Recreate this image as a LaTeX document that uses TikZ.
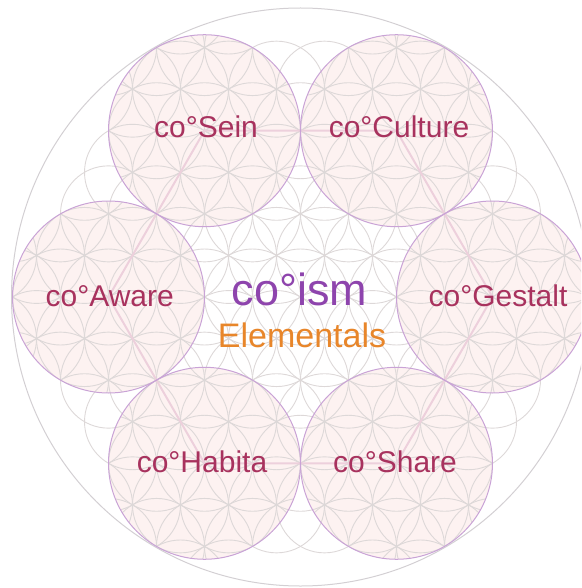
\documentclass[tikz,border=0pt]{standalone}
\usepackage{fontspec}
\setmainfont{Liberation Sans}
\usetikzlibrary{calc}
\definecolor{latgray}{HTML}{DDD8D8}
\definecolor{pinkfill}{HTML}{FDF2F1}
\definecolor{circborder}{HTML}{C9A3D6}
\definecolor{hexpink}{HTML}{EDD0DC}
\definecolor{labelc}{HTML}{A8325E}
\definecolor{ismc}{HTML}{8E44AD}
\definecolor{elemc}{HTML}{E8862A}
\definecolor{outerc}{HTML}{D3CFD3}
\begin{document}
\begin{tikzpicture}[x=1pt,y=-1pt,
  lat/.style={draw=latgray,line width=0.9pt},
  elemfill/.style={fill=pinkfill},
  elemborder/.style={draw=circborder,line width=1pt},
  hexline/.style={draw=hexpink,line width=2pt},
  bigring/.style={draw=outerc,line width=1pt},
  lab/.style={text=labelc,anchor=base,inner sep=0pt,font=\fontsize{30}{36}\selectfont},
  ism/.style={text=ismc,anchor=base,inner sep=0pt,font=\fontsize{45}{54}\selectfont},
  elems/.style={text=elemc,anchor=base,inner sep=0pt,font=\fontsize{34}{40}\selectfont}]
\useasboundingbox (0,0) rectangle (581,588);
\clip (0,0) rectangle (581,588);
\coordinate (o) at (300.5,297);
\coordinate (c1) at (204.5,130.72);
\coordinate (c2) at (396.5,130.72);
\coordinate (c3) at (492.5,297);
\coordinate (c4) at (396.5,463.28);
\coordinate (c5) at (204.5,463.28);
\coordinate (c6) at (108.5,297);
% outer ring
\draw[bigring] (o) circle[radius=289pt];
% global flower lattice
\foreach \i in {-5,...,5}{
  \foreach \j in {-5,...,5}{
    \pgfmathtruncatemacro\nn{\i*\i+\i*\j+\j*\j}
    \ifnum\nn<20
      \draw[lat] ($(o)+({48*\i+24*\j},{41.5692*\j})$) circle[radius=48pt];
    \fi
  }
}
% six element circles with their own clipped flower
\foreach \c in {c1,c2,c3,c4,c5,c6}{
  \fill[elemfill] (\c) circle[radius=96pt];
  \begin{scope}
    \clip (\c) circle[radius=96pt];
    \foreach \i in {-3,...,3}{
      \foreach \j in {-3,...,3}{
        \pgfmathtruncatemacro\nn{\i*\i+\i*\j+\j*\j}
        \ifnum\nn<8
          \draw[lat] ($(\c)+({48*\i+24*\j},{41.5692*\j})$) circle[radius=48pt];
        \fi
      }
    }
  \end{scope}
}
% hexagon linking the centres
\draw[hexline] (c1) -- (c2) -- (c3) -- (c4) -- (c5) -- (c6) -- cycle;
\foreach \c in {c1,c2,c3,c4,c5,c6}{
  \draw[elemborder] (\c) circle[radius=96pt];
}
% labels
\node[lab] (tsein) at (206,137.7) {co°Sein};
\node[lab] (tculture) at (399,137.7) {co°Culture};
\node[lab] (taware) at (109.7,306) {co°Aware};
\node[lab] (tgestalt) at (498,306) {co°Gestalt};
\node[lab] (thabita) at (202,472) {co°Habita};
\node[lab] (tshare) at (395,472) {co°Share};
\node[ism] (tism) at (299.7,305.7) {co°ism};
\node[elems] (telem) at (302,347.7) {Elementals};
\end{tikzpicture}
\end{document}
